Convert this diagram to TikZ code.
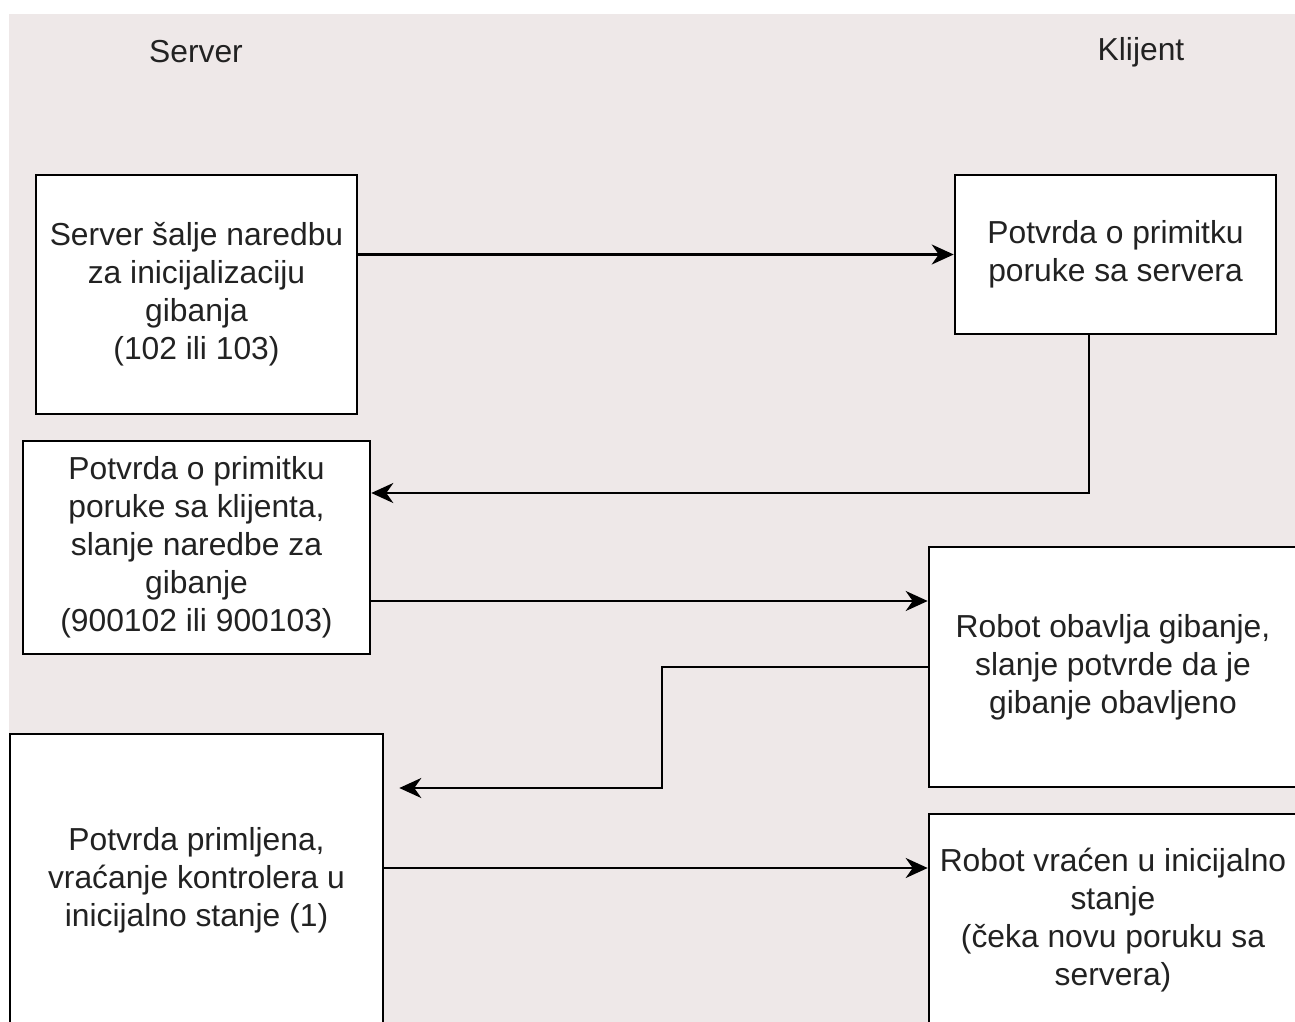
\documentclass[tikz,border=0pt]{standalone}
\usepackage{fontspec}
\setmainfont{Liberation Sans}
\usetikzlibrary{arrows.meta}
\definecolor{bgcol}{RGB}{238,232,232}
\definecolor{txtcol}{RGB}{34,34,34}
\tikzset{
  box/.style={draw=black, fill=white, line width=2.6pt, align=center, inner sep=0pt,
    text=txtcol, font=\fontsize{31.8}{38}\selectfont},
  lbl/.style={text=txtcol, font=\fontsize{31.8}{38}\selectfont, inner sep=0pt},
  arr/.style={draw=black, line width=2.4pt, -{Stealth[length=22pt,width=20pt,inset=7pt]}}
}
\begin{document}
\begin{tikzpicture}[x=1pt,y=-1pt]
\useasboundingbox (0,0) rectangle (1295,1022);
\fill[white] (0,0) rectangle (1295,1022);
\fill[bgcol] (9,14) rectangle (1300,1030);
\node[lbl] (srv) at (196,52) {Server};
\node[lbl] (kli) at (1141,52) {Klijent};
\node[box, minimum width=321pt, minimum height=239pt] (a) at (196.5,294.5)
  {Server šalje naredbu\\za inicijalizaciju\\gibanja\\(102 ili 103)};
\node[box, minimum width=321pt, minimum height=159pt] (b) at (1115.5,254.5)
  {Potvrda o primitku\\poruke sa servera};
\node[box, minimum width=347pt, minimum height=213pt] (c) at (196.5,547.5)
  {Potvrda o primitku\\poruke sa klijenta,\\slanje naredbe za\\gibanje\\(900102 ili 900103)};
\node[box, minimum width=368pt, minimum height=240pt] (d) at (1113,667)
  {Robot obavlja gibanje,\\slanje potvrde da je\\gibanje obavljeno};
\node[box, minimum width=373pt, minimum height=292pt] (e) at (196.5,880)
  {Potvrda primljena,\\vraćanje kontrolera u\\inicijalno stanje (1)};
\node[box, minimum width=368pt, minimum height=212pt] (f) at (1113,920)
  {Robot vraćen u inicijalno\\stanje\\(čeka novu poruku sa\\servera)};
\coordinate (etip) at ([xshift=15pt,yshift=92pt]e.east);
\draw[arr] (a.east |- b.west) -- (b.west);
\draw[arr] ([xshift=-26.5pt]b.south) |- ([yshift=54.5pt]c.east);
\draw[arr] ([yshift=-53.5pt]c.east) -- ([yshift=66pt]d.west);
\draw[arr] (d.west) -- ++(-266,0) |- (etip);
\draw[arr] ([yshift=12pt]e.east) -- ([yshift=52pt]f.west);
\end{tikzpicture}
\end{document}
